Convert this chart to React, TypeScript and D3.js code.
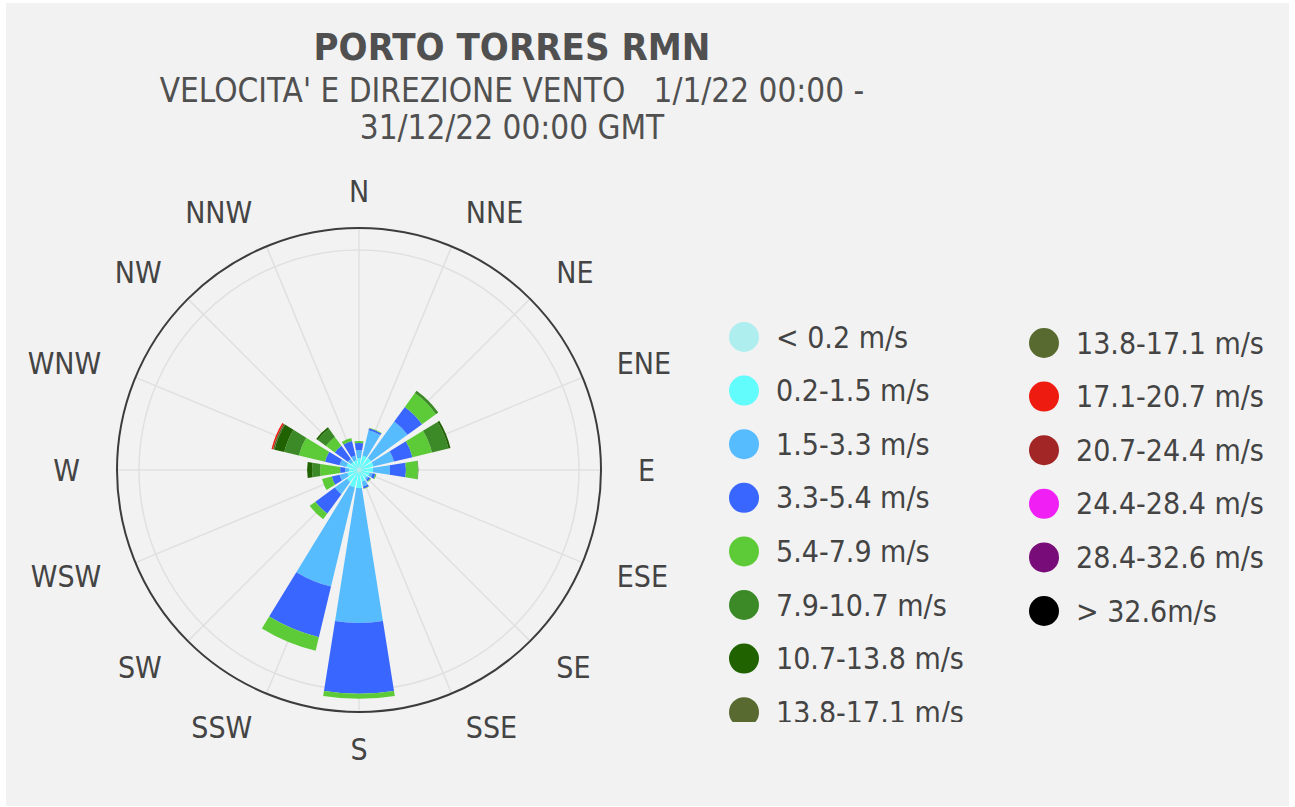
import React, { useEffect, useRef } from 'react';
import * as d3 from 'd3';

const directions = ['N', 'NNE', 'NE', 'ENE', 'E', 'ESE', 'SE', 'SSE', 'S', 'SSW', 'SW', 'WSW', 'W', 'WNW', 'NW', 'NNW'];

const speedBins = [
  '< 0.2 m/s', '0.2-1.5 m/s', '1.5-3.3 m/s', '3.3-5.4 m/s', '5.4-7.9 m/s', '7.9-10.7 m/s',
  '10.7-13.8 m/s', '13.8-17.1 m/s', '17.1-20.7 m/s', '20.7-24.4 m/s', '24.4-28.4 m/s',
  '28.4-32.6 m/s', '> 32.6m/s',
];

const binColors = [
  '#afeeee', '#62fcfc', '#56bcfe', '#3866fe', '#5dcb38', '#3b8a27', '#206200',
  '#586a30', '#ee1c10', '#a22626', '#f020f4', '#780c78', '#000000',
];

// frequency (%) for each direction (N -> NNW), one list per speed class
const fBelow02 = [0.18, 0.18, 0.18, 0.18, 0.18, 0.18, 0.18, 0.18, 0.18, 0.18, 0.18, 0.18, 0.18, 0.18, 0.18, 0.18];
const f02to15 = [0.91, 1.18, 1.18, 1.18, 1.09, 0.82, 0.73, 0.91, 1.45, 1.45, 1.18, 0.91, 0.73, 1.0, 0.73, 0.73];
const f15to33 = [0.73, 2.36, 4.09, 1.91, 1.55, 0.27, 0.18, 0.45, 12.27, 9.27, 1.36, 0.73, 0.36, 0.64, 0.36, 0.45];
const f33to54 = [0.64, 0.18, 1.64, 1.73, 1.45, 0.27, 0.18, 0.18, 6.45, 4.73, 2.18, 0.73, 0.45, 1.36, 1.45, 1.36];
const f54to79 = [0.18, 0.05, 1.55, 1.82, 1.09, 0.09, 0.09, 0.05, 0.45, 1.27, 0.64, 0.91, 1.82, 2.45, 1.0, 0.27];
const f79to107 = [0, 0, 0.27, 1.55, 0.05, 0, 0, 0, 0, 0, 0, 0, 0.73, 1.36, 0.91, 0];
const f107to138 = [0, 0, 0, 0.18, 0, 0, 0, 0, 0, 0, 0, 0, 0.45, 0.91, 0.18, 0];
const f138to171 = [0, 0, 0, 0, 0, 0, 0, 0, 0, 0, 0, 0, 0, 0.14, 0, 0];
const f171to207 = [0, 0, 0, 0, 0, 0, 0, 0, 0, 0, 0, 0, 0, 0.14, 0, 0];
const f207to244 = [0, 0, 0, 0, 0, 0, 0, 0, 0, 0, 0, 0, 0, 0, 0, 0];
const f244to284 = [0, 0, 0, 0, 0, 0, 0, 0, 0, 0, 0, 0, 0, 0, 0, 0];
const f284to326 = [0, 0, 0, 0, 0, 0, 0, 0, 0, 0, 0, 0, 0, 0, 0, 0];
const fAbove326 = [0, 0, 0, 0, 0, 0, 0, 0, 0, 0, 0, 0, 0, 0, 0, 0];

const frequencies = [
  fBelow02, f02to15, f15to33, f33to54, f54to79, f79to107, f107to138,
  f138to171, f171to207, f207to244, f244to284, f284to326, fAbove326,
];

const radialTicks = [20];
const radialMax = 22;

const titleText = 'PORTO TORRES RMN';
const subtitleLines = ["VELOCITA' E DIREZIONE VENTO   1/1/22 00:00 -", '31/12/22 00:00 GMT'];

const FONT = "'DejaVu Sans Condensed', 'Liberation Sans Narrow', 'DejaVu Sans', sans-serif";

const WindRose = () => {
  const svgRef = useRef(null);

  useEffect(() => {
    const width = 1295;
    const height = 807;
    const cx = 359;
    const cy = 470;
    const outerR = 242;

    const svg = d3.select(svgRef.current).attr('width', width).attr('height', height);
    svg.selectAll('*').remove();

    // panel background
    svg.append('rect')
      .attr('x', 6).attr('y', 3)
      .attr('width', 1283).attr('height', 803)
      .attr('fill', '#f2f2f2');

    // titles
    svg.append('text')
      .attr('x', 512).attr('y', 60)
      .attr('text-anchor', 'middle')
      .attr('font-family', FONT)
      .attr('font-size', '38px')
      .attr('font-weight', 'bold')
      .attr('fill', '#505050')
      .text(titleText);

    subtitleLines.forEach((line, i) => {
      svg.append('text')
        .attr('x', 512).attr('y', 102 + i * 37)
        .attr('text-anchor', 'middle')
        .attr('font-family', FONT)
        .attr('font-size', '33px')
        .attr('fill', '#505050')
        .style('white-space', 'pre')
        .text(line);
    });

    const rScale = d3.scaleLinear().domain([0, radialMax]).range([0, outerR]);
    const angleScale = d3.scaleLinear().domain([0, directions.length]).range([0, 2 * Math.PI]);
    const halfWidth = (angleScale(1) * 0.8) / 2;

    const polar = svg.append('g').attr('transform', `translate(${cx}, ${cy})`);

    // grid
    radialTicks.forEach((t) => {
      polar.append('circle')
        .attr('r', rScale(t))
        .attr('fill', 'none')
        .attr('stroke', '#e0e0e0')
        .attr('stroke-width', 1.5);
    });

    directions.forEach((d, i) => {
      const a = angleScale(i);
      polar.append('line')
        .attr('x1', 0).attr('y1', 0)
        .attr('x2', Math.sin(a) * outerR)
        .attr('y2', -Math.cos(a) * outerR)
        .attr('stroke', '#e0e0e0')
        .attr('stroke-width', 1.5);
    });

    // stacked bars
    const rows = directions.map((d, i) => {
      const row = { dir: d };
      speedBins.forEach((b, j) => { row[b] = frequencies[j][i]; });
      return row;
    });
    const stacked = d3.stack().keys(speedBins)(rows);

    const arc = d3.arc();
    stacked.forEach((layer, j) => {
      polar.append('g')
        .selectAll('path')
        .data(layer)
        .join('path')
        .attr('fill', binColors[j])
        .attr('d', (s, i) => {
          if (s[1] - s[0] <= 0) return null;
          const a = angleScale(i);
          return arc({
            innerRadius: rScale(s[0]),
            outerRadius: rScale(s[1]),
            startAngle: a - halfWidth,
            endAngle: a + halfWidth,
          });
        });
    });

    // outer frame
    polar.append('circle')
      .attr('r', outerR)
      .attr('fill', 'none')
      .attr('stroke', '#3c3c3c')
      .attr('stroke-width', 2);

    // direction labels
    const labelR = 279;
    directions.forEach((d, i) => {
      const a = angleScale(i);
      const sx = Math.sin(a);
      let anchor = 'middle';
      if (sx > 0.01) anchor = 'start';
      if (sx < -0.01) anchor = 'end';
      polar.append('text')
        .attr('x', sx * labelR)
        .attr('y', -Math.cos(a) * labelR)
        .attr('text-anchor', anchor)
        .attr('dominant-baseline', 'central')
        .attr('font-family', FONT)
        .attr('font-size', '30px')
        .attr('fill', '#444')
        .text(d);
    });

    // legend (first column is cut at the bottom, as in the original)
    svg.append('clipPath').attr('id', 'legend-clip')
      .append('rect')
      .attr('x', 700).attr('y', 300)
      .attr('width', 300).attr('height', 422);

    const legendCols = [
      { items: d3.range(0, 8), x: 744, y0: 337, clip: true },
      { items: d3.range(7, 13), x: 1044, y0: 343, clip: false },
    ];
    legendCols.forEach((col) => {
      const g = svg.append('g');
      if (col.clip) g.attr('clip-path', 'url(#legend-clip)');
      col.items.forEach((idx, k) => {
        const y = col.y0 + k * 53.6;
        g.append('circle')
          .attr('cx', col.x).attr('cy', y)
          .attr('r', 15)
          .attr('fill', binColors[idx]);
        g.append('text')
          .attr('x', col.x + 32).attr('y', y)
          .attr('dominant-baseline', 'central')
          .attr('font-family', FONT)
          .attr('font-size', '30px')
          .attr('fill', '#444')
          .text(speedBins[idx]);
      });
    });
  }, []);

  return <svg ref={svgRef} style={{ position: 'absolute', left: 0, top: 0 }} />;
};

export default function App() {
  return <WindRose />;
}
